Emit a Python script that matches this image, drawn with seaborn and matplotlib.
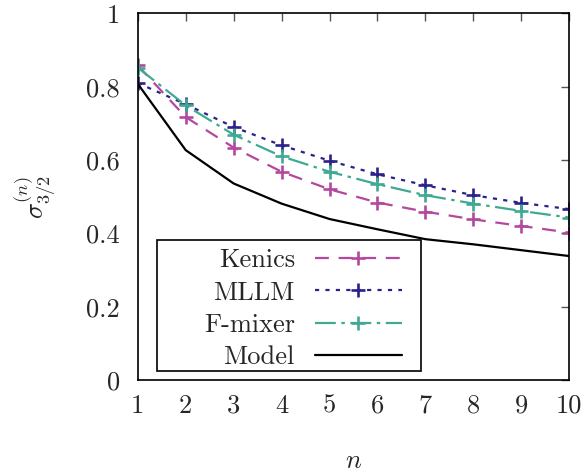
import matplotlib
matplotlib.use("Agg")
import matplotlib.pyplot as plt
from matplotlib.patches import Rectangle
import seaborn as sns
import numpy as np
import pandas as pd

n_values = [1, 2, 3, 4, 5, 6, 7, 8, 9, 10]
kenics = [0.858, 0.717, 0.634, 0.568, 0.520, 0.484, 0.459, 0.438, 0.420, 0.402]
mllm = [0.810, 0.752, 0.690, 0.640, 0.598, 0.561, 0.531, 0.504, 0.483, 0.466]
fmixer = [0.852, 0.749, 0.669, 0.610, 0.568, 0.534, 0.504, 0.481, 0.461, 0.443]
model = [0.808, 0.627, 0.536, 0.481, 0.439, 0.411, 0.384, 0.370, 0.354, 0.338]
series_names = ["Kenics", "MLLM", "F-mixer", "Model"]
y_ticks = [0, 0.2, 0.4, 0.6, 0.8, 1]
y_tick_labels = ["0", "0.2", "0.4", "0.6", "0.8", "1"]

sns.set_style("white")
plt.rcParams["font.family"] = ["cmr10", "DejaVu Serif"]
plt.rcParams["mathtext.fontset"] = "cm"
plt.rcParams["axes.formatter.use_mathtext"] = True
plt.rcParams["lines.scale_dashes"] = False

fig = plt.figure(figsize=(5.85, 4.76), dpi=100)
ax = fig.add_axes([0.2354, 0.2017, 0.9732 - 0.2354, 0.972 - 0.2017])

colors = {"Kenics": "#b4479e", "MLLM": "#2b2189", "F-mixer": "#40a993", "Model": "#000000"}
styles = {
    "Kenics": (0, (10, 7)),
    "MLLM": (0, (3, 4.5)),
    "F-mixer": (0, (15, 4, 2.5, 4)),
    "Model": "-",
}
markers = {"Kenics": "+", "MLLM": "+", "F-mixer": "+", "Model": None}
data = {"Kenics": kenics, "MLLM": mllm, "F-mixer": fmixer, "Model": model}

handles = []
for name in series_names:
    df = pd.DataFrame({"n": n_values, "v": data[name]})
    if markers[name]:
        kw = dict(marker=markers[name], markersize=9.5, markeredgewidth=1.9,
                  markeredgecolor=colors[name], markerfacecolor=colors[name])
    else:
        kw = {}
    sns.lineplot(data=df, x="n", y="v", ax=ax, color=colors[name], linewidth=1.6,
                 linestyle=styles[name], **kw)
    handles.append(ax.get_lines()[-1])

ax.set_xlim(1, 10)
ax.set_ylim(0, 1)
ax.set_xticks(n_values)
ax.set_xticklabels([str(v) for v in n_values])
ax.set_yticks(y_ticks)
ax.set_yticklabels(y_tick_labels)
ax.tick_params(direction="in", length=6, width=1, top=True, right=True,
               labelsize=19, pad=13, color="#555555")
ax.tick_params(axis="x", pad=10)
for sp in ax.spines.values():
    sp.set_visible(True)
    sp.set_color("black")
    sp.set_linewidth(1.2)

ax.set_xlabel("$n$", fontsize=19, labelpad=23)
ax.set_ylabel(r"$\sigma_{3/2}^{(n)}$", fontsize=19, labelpad=20)

# legend frame (gnuplot-style box)
ax.add_patch(Rectangle((0.0447, 0.0245), 0.6564 - 0.0447, 0.3818 - 0.0245,
                       transform=ax.transAxes, facecolor="white", edgecolor="black",
                       linewidth=1.2, zorder=4))
leg = ax.legend(handles, series_names, loc="lower right", bbox_to_anchor=(0.6124, 0.03),
                markerfirst=False, numpoints=1, fontsize=19, handlelength=3.3,
                frameon=False, borderpad=0, labelspacing=0.32, handletextpad=0.76,
                borderaxespad=0)
leg.set_zorder(5)
for t in leg.get_texts():
    t.set_ha("right")
leg._legend_box.align = "right"

fig.savefig("out.png", dpi=100)
